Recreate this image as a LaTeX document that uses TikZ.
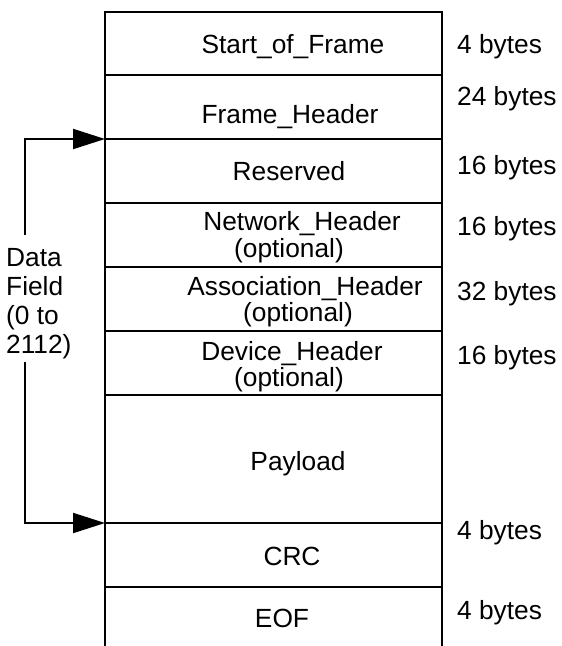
\documentclass[tikz,border=0pt]{standalone}
\usepackage{fontspec}
\setmainfont{Liberation Sans}
\usetikzlibrary{arrows.meta, positioning, calc}
\tikzset{
    fieldtext/.style={inner sep=0pt, anchor=base, font=\fontsize{26.3}{24.5}\selectfont},
    bytetext/.style={inner sep=0pt, anchor=base west, font=\fontsize{26.3}{24.5}\selectfont},
    framerule/.style={line width=2pt, black},
    arrow/.style={-{Triangle[length=32pt, width=20pt]}, line width=2pt, black},
}

\begin{document}
\begin{tikzpicture}[x=1pt, y=-1pt]
    \useasboundingbox (0,0) rectangle (562,646);
    % frame outline, open at the bottom
    \draw[framerule] (105,646) -- (105,12) -- (442,12) -- (442,646);
    \foreach \y/\name in {75/b1, 139/b2, 203/b3, 267/b4, 331/b5, 395/b6, 523/b7, 587/b8} {
        \draw[framerule] (105,\y) coordinate (\name) -- (442,\y);
    }

    \node[fieldtext] (sof) at (293,53) {Start\_of\_Frame};
    \node[fieldtext] (fhdr) at (290,123) {Frame\_Header};
    \node[fieldtext] (resv) at (289,180) {Reserved};
    \node[fieldtext] (nethdr) at (302,230) {Network\_Header};
    \node[fieldtext] (netopt) at (289,257.5) {(optional)};
    \node[fieldtext] (assochdr) at (305,295) {Association\_Header};
    \node[fieldtext] (assocopt) at (298,321.5) {(optional)};
    \node[fieldtext] (devhdr) at (292,360) {Device\_Header};
    \node[fieldtext] (devopt) at (289,386) {(optional)};
    \node[fieldtext] (payload) at (298,470) {Payload};
    \node[fieldtext] (crc) at (292,565) {CRC};
    \node[fieldtext] (eof) at (282,627) {EOF};

    \node[bytetext] (sofbytes) at (457,53) {4 bytes};
    \node[bytetext] (fhdrbytes) at (457,105) {24 bytes};
    \node[bytetext] (resvbytes) at (457,174) {16 bytes};
    \node[bytetext] (netbytes) at (457,235) {16 bytes};
    \node[bytetext] (assocbytes) at (457,300) {32 bytes};
    \node[bytetext] (devbytes) at (457,364) {16 bytes};
    \node[bytetext] (crcbytes) at (457,539) {4 bytes};
    \node[bytetext] (eofbytes) at (457,619) {4 bytes};

    % data field span
    \node[anchor=north west, align=left, inner sep=0pt, font=\fontsize{26.3}{29}\selectfont] (datafield) at (6,248) {Data\\Field\\(0 to\\2112)};
    \coordinate (dtop) at (25,235);
    \coordinate (dbot) at (25,362);
    \draw[arrow] (dtop) |- (b2);
    \draw[arrow] (dbot) |- (b7);
\end{tikzpicture}
\end{document}
